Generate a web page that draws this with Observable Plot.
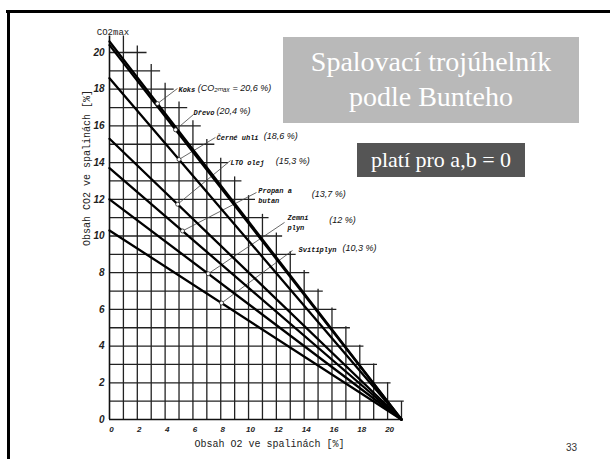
<!DOCTYPE html>
<html>
<head>
<meta charset="utf-8">
<script src="https://cdn.jsdelivr.net/npm/d3@7"></script>
<script src="https://cdn.jsdelivr.net/npm/@observablehq/plot@0.6"></script>
<style>
  html, body { margin: 0; padding: 0; background: #fff; }
  #page { position: relative; width: 612px; height: 459px; overflow: hidden; }
  #chart { position: absolute; left: 0; top: 0; }
  .frameTop { position: absolute; left: 6px; top: 10px; width: 604px; height: 3px; background: #000; }
  .frameLeft { position: absolute; left: 7px; top: 10px; width: 3px; height: 449px; background: #000; }
  .title { position: absolute; left: 283px; top: 37px; width: 296px; height: 86px; background: #b9b9b9;
           color: #fff; font-family: "Liberation Serif", "DejaVu Serif", serif; font-size: 28px;
           line-height: 35px; text-align: center; padding-top: 7px; box-sizing: border-box; }
  .sub { position: absolute; left: 357px; top: 143px; width: 168px; height: 34px; background: #555;
         color: #fff; font-family: "Liberation Serif", "DejaVu Serif", serif; font-size: 22px;
         line-height: 34px; text-align: center; }
  .pnum { position: absolute; left: 566px; top: 442px; font-family: "Liberation Sans", Arial, sans-serif;
          font-size: 10px; color: #333; }
</style>
</head>
<body>
<div id="page">
  <div id="chart"></div>
  <div class="frameTop"></div>
  <div class="frameLeft"></div>
  <div class="title">Spalovací trojúhelník<br>podle Bunteho</div>
  <div class="sub">platí pro a,b = 0</div>
  <div class="pnum">33</div>
</div>
<script>
// ---- data ----
const fuels = ["Koks", "Dřevo", "Černé uhlí", "LTO olej", "Propan a\nbutan", "Zemní\nplyn", "Svítiplyn"];
const co2max = [20.6, 20.4, 18.6, 15.3, 13.7, 12, 10.3];
const percentLabels = ["(CO₂ₘₐₓ = 20,6 %)", "(20,4 %)", "(18,6 %)", "(15,3 %)", "(13,7 %)", "(12 %)", "(10,3 %)"];
const o2max = 21;
const xTicks = [0, 2, 4, 6, 8, 10, 12, 14, 16, 18, 20];
const yTicks = [0, 2, 4, 6, 8, 10, 12, 14, 16, 18, 20];
const gridSteps = d3.range(0, 22);
const markerO2 = [3.45, 4.75, 5.0, 4.9, 5.25, 7.1, 8.06];

// ---- annotation layout (data coordinates) ----
const leaderEnd = [[4.89, 18.04], [6.04, 16.62], [7.62, 15.37], [8.7, 14.11], [10.57, 12.37], [12.59, 10.74], [13.16, 9.21]];
const nameAt = [[4.96, 18.04], [6.04, 16.78], [7.7, 15.42], [8.7, 14.06], [10.7, 12.26], [12.8, 10.79], [13.6, 9.32]];
const pctAt = [[6.35, 18.04], [7.7, 16.78], [11.1, 15.42], [11.95, 14.06], [14.55, 12.26], [15.8, 10.84], [16.75, 9.32]];

const lineData = fuels.flatMap((f, i) => [{fuel: f, x: 0, y: co2max[i]}, {fuel: f, x: o2max, y: 0}]);
const markers = fuels.map((f, i) => ({fuel: f, x: markerO2[i], y: co2max[i] * (1 - markerO2[i] / o2max)}));
const leaders = markers.map((m, i) => ({x1: m.x, y1: m.y, x2: leaderEnd[i][0], y2: leaderEnd[i][1]}));
const names = fuels.map((f, i) => ({t: f, x: nameAt[i][0], y: nameAt[i][1]}));
const pcts = percentLabels.map((t, i) => ({t, x: pctAt[i][0], y: pctAt[i][1]}));

// staircase extent of the printed grid
const vTop = k => Math.min(22.4 - 1.02 * k, 20.9);
const hRight = k => k === 0 ? o2max : Math.min(22.2 - 0.975 * k, 21.2);

const sans = "'Liberation Sans', 'DejaVu Sans', Arial, sans-serif";
const mono = "'Liberation Mono', 'DejaVu Sans Mono', monospace";

const chart = Plot.plot({
  width: 612, height: 459,
  marginLeft: 109, marginRight: 211, marginTop: 52, marginBottom: 40,
  x: {domain: [0, 21], axis: null},
  y: {domain: [0, 20], axis: null},
  style: {background: "transparent", overflow: "visible"},
  marks: [
    Plot.ruleX(gridSteps.filter(k => k > 0), {x: d => d, y1: 0, y2: vTop, stroke: "#222", strokeWidth: 1.3}),
    Plot.ruleY(gridSteps.filter(k => k > 0 && k <= 20), {y: d => d, x1: 0, x2: hRight, stroke: "#222", strokeWidth: 1.3}),
    Plot.ruleX([0], {y1: 0, y2: 20.9, stroke: "#111", strokeWidth: 1.6}),
    Plot.ruleY([0], {x1: 0, x2: o2max, stroke: "#111", strokeWidth: 1.6}),
    Plot.link(leaders, {x1: "x1", y1: "y1", x2: "x2", y2: "y2", stroke: "#444", strokeWidth: 0.8}),
    Plot.line(lineData, {x: "x", y: "y", z: "fuel", stroke: "#000", strokeWidth: 2.3}),
    Plot.dot(markers, {x: "x", y: "y", r: 2, fill: "#fff", stroke: "#222", strokeWidth: 0.8}),
    Plot.text(names, {x: "x", y: "y", text: "t", textAnchor: "start", fontFamily: mono, fontSize: 7,
      fontWeight: "bold", fontStyle: "italic", fill: "#111", lineHeight: 1.4}),
    Plot.text(pcts, {x: "x", y: "y", text: "t", textAnchor: "start", fontFamily: sans, fontSize: 9,
      fontStyle: "italic", fill: "#111"}),
    Plot.text(yTicks, {x: 0, y: d => d, text: d => String(d), dx: -5, textAnchor: "end", fontFamily: sans,
      fontSize: 10, fontStyle: "italic", fontWeight: "bold", fill: "#222"}),
    Plot.text(xTicks, {x: d => d, y: 0, text: d => String(d), dy: 10, dx: 2, fontFamily: sans,
      fontSize: 8, fontStyle: "italic", fontWeight: "bold", fill: "#222"}),
    Plot.text(["Obsah O2 ve spalinách [%]"], {x: 11.5, y: 0, dy: 24, text: d => d, fontFamily: mono, fontSize: 10, fill: "#222"}),
    Plot.text(["Obsah CO2 ve spalinách [%]"], {x: 0, y: 13.7, dx: -23, rotate: -90, text: d => d, fontFamily: mono, fontSize: 10, fill: "#222"}),
    Plot.text(["CO2max"], {x: 0.25, y: 21.1, text: d => d, fontFamily: mono, fontSize: 9, fill: "#222"})
  ]
});
document.getElementById("chart").appendChild(chart);
</script>
</body>
</html>
